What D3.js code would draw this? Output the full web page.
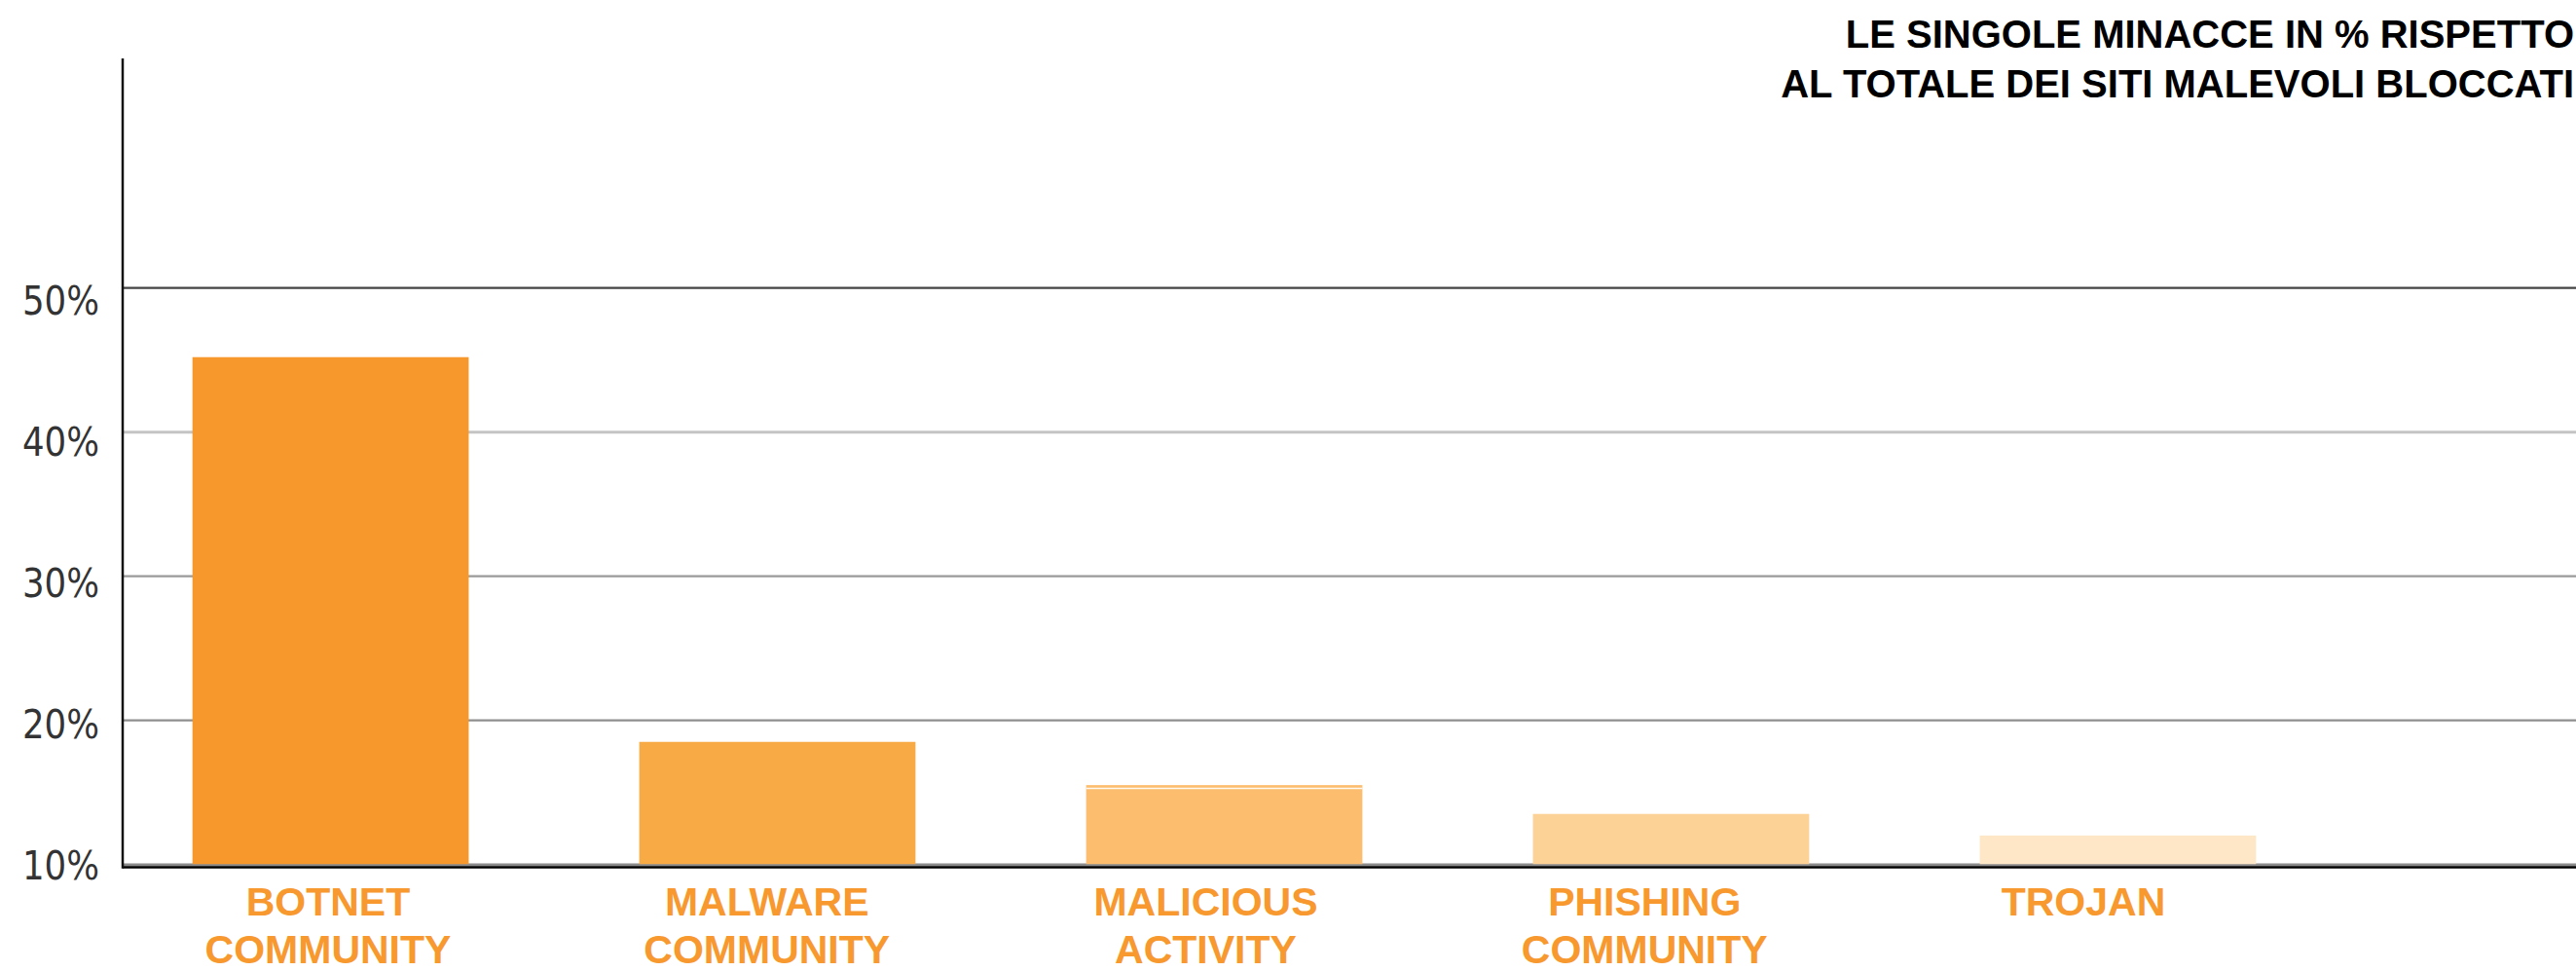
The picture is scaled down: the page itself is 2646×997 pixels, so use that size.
<!DOCTYPE html>
<html>
<head>
<meta charset="utf-8">
<script src="https://cdn.jsdelivr.net/npm/d3@7"></script>
<style>
  html, body { margin: 0; padding: 0; background: #fff; }
  svg { display: block; }
</style>
</head>
<body>
<script>
// ---- data ----
const categories = ["BOTNET COMMUNITY", "MALWARE COMMUNITY", "MALICIOUS ACTIVITY", "PHISHING COMMUNITY", "TROJAN"];
const labelLines = [["BOTNET", "COMMUNITY"], ["MALWARE", "COMMUNITY"], ["MALICIOUS", "ACTIVITY"], ["PHISHING", "COMMUNITY"], ["TROJAN"]];
const values = [45.2, 18.5, 15.5, 13.5, 12.0];
const yTicks = [10, 20, 30, 40, 50];
const yTickLabels = ["10%", "20%", "30%", "40%", "50%"];
const titleLines = ["LE SINGOLE MINACCE IN % RISPETTO", "AL TOTALE DEI SITI MALEVOLI BLOCCATI"];

// ---- styles ----
const barColors = ["#F7982D", "#F8AA45", "#FCBD6E", "#FDD296", "#FEE7C6"];
const gridColors = {10: "#8a8a8a", 20: "#8f8f8f", 30: "#9a9a9a", 40: "#c4c4c4", 50: "#444444"};
const gridWidths = {10: 2, 20: 2.2, 30: 2.2, 40: 3, 50: 2.2};
const labelColor = "#F7992E";

const W = 2646, H = 997;
const svg = d3.select("body").append("svg").attr("width", W).attr("height", H);
svg.append("rect").attr("width", W).attr("height", H).attr("fill", "#fff");

const axisX = 126;
const y = d3.scaleLinear().domain([10, 50]).range([887.5, 295.7]);
const yLabel = d3.scaleLinear().domain([10, 50]).range([888.5, 308.5]);
const x = d3.scaleBand().domain(categories).range([axisX + 12, 2377]).paddingInner(0.3818).paddingOuter(0.13);
const xLabel = d3.scalePoint().domain(categories).range([337, 2140]);

// gridlines
svg.append("g").selectAll("line").data(yTicks).join("line")
  .attr("x1", axisX).attr("x2", W)
  .attr("y1", d => y(d)).attr("y2", d => y(d))
  .attr("stroke", d => gridColors[d]).attr("stroke-width", d => gridWidths[d]);

// bars
svg.append("g").selectAll("rect").data(values).join("rect")
  .attr("x", (d, i) => x(categories[i]))
  .attr("width", x.bandwidth())
  .attr("y", d => y(d))
  .attr("height", d => y(10) - y(d))
  .attr("fill", (d, i) => barColors[i]);

// thin white line on the malicious bar (artifact in source)
svg.append("line")
  .attr("x1", x(categories[2])).attr("x2", x(categories[2]) + x.bandwidth())
  .attr("y1", y(values[2]) + 3.3).attr("y2", y(values[2]) + 3.3)
  .attr("stroke", "#fff").attr("stroke-width", 1.4).attr("opacity", 0.9);

// baseline lines
svg.append("line").attr("x1", axisX).attr("x2", W).attr("y1", y(10) + 1).attr("y2", y(10) + 1)
  .attr("stroke", "#8a8a8a").attr("stroke-width", 2);
svg.append("line").attr("x1", axisX).attr("x2", W).attr("y1", y(10) + 3).attr("y2", y(10) + 3)
  .attr("stroke", "#000").attr("stroke-width", 2.5);

// vertical axis
svg.append("line").attr("x1", axisX).attr("x2", axisX).attr("y1", 60).attr("y2", y(10) + 4.2)
  .attr("stroke", "#111").attr("stroke-width", 2.5);

// y tick labels
svg.append("g").selectAll("text").data(yTicks).join("text")
  .attr("x", 102).attr("y", d => yLabel(d))
  .attr("dy", "0.36em")
  .attr("text-anchor", "end")
  .attr("font-family", "'DejaVu Sans Condensed', 'DejaVu Sans', sans-serif")
  .attr("font-stretch", "condensed")
  .attr("font-size", 41)
  .attr("fill", "#333")
  .attr("textLength", 79).attr("lengthAdjust", "spacingAndGlyphs")
  .text((d, i) => yTickLabels[i]);

// category labels
const lab = svg.append("g").selectAll("text").data(categories).join("text")
  .attr("text-anchor", "middle")
  .attr("font-family", "'Liberation Sans', Arial, Helvetica, sans-serif")
  .attr("font-weight", "bold")
  .attr("font-size", 41)
  .attr("fill", labelColor);
lab.each(function(d, i) {
  const t = d3.select(this);
  labelLines[i].forEach((ln, k) => {
    t.append("tspan").attr("x", xLabel(d)).attr("y", 940 + k * 49).text(ln);
  });
});

// title
svg.append("g").selectAll("text").data(titleLines).join("text")
  .attr("x", 2644).attr("y", (d, i) => 49 + i * 51)
  .attr("text-anchor", "end")
  .attr("font-family", "'Liberation Sans', Arial, Helvetica, sans-serif")
  .attr("font-weight", "bold")
  .attr("font-size", 40)
  .attr("fill", "#000")
  .text(d => d);
</script>
</body>
</html>
